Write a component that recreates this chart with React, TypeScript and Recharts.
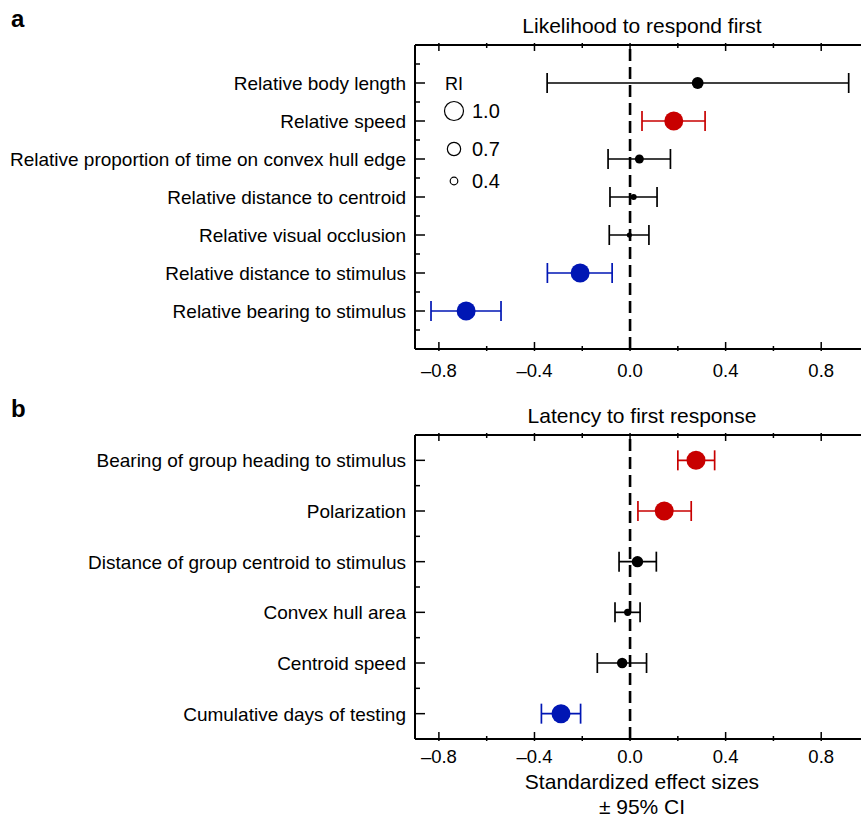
import {
  ErrorBar,
  Legend,
  ReferenceLine,
  Scatter,
  ScatterChart,
  XAxis,
  YAxis,
} from "recharts";

const FONT = "'Liberation Sans', Arial, Helvetica, sans-serif";

// Panel a: likelihood to respond first
const TITLE_A = "Likelihood to respond first";
const LABELS_A = [
  "Relative body length",
  "Relative speed",
  "Relative proportion of time on convex hull edge",
  "Relative distance to centroid",
  "Relative visual occlusion",
  "Relative distance to stimulus",
  "Relative bearing to stimulus",
];
const EST_A = [0.283, 0.183, 0.039, 0.015, -0.003, -0.209, -0.686];
const LOW_A = [-0.347, 0.05, -0.092, -0.084, -0.087, -0.346, -0.833];
const HIGH_A = [0.915, 0.314, 0.169, 0.113, 0.079, -0.075, -0.54];
const RI_A = [0.62, 1.0, 0.47, 0.32, 0.27, 1.0, 1.0];

// Panel b: latency to first response
const TITLE_B = "Latency to first response";
const LABELS_B = [
  "Bearing of group heading to stimulus",
  "Polarization",
  "Distance of group centroid to stimulus",
  "Convex hull area",
  "Centroid speed",
  "Cumulative days of testing",
];
const EST_B = [0.276, 0.143, 0.031, -0.01, -0.033, -0.289];
const LOW_B = [0.2, 0.033, -0.046, -0.063, -0.137, -0.371];
const HIGH_B = [0.354, 0.256, 0.11, 0.042, 0.069, -0.207];
const RI_B = [1.0, 1.0, 0.6, 0.38, 0.55, 1.0];

const LEGEND_RI = [1.0, 0.7, 0.4];
const X_TICKS = [-0.8, -0.6, -0.4, -0.2, 0, 0.2, 0.4, 0.6, 0.8];
const X_DOMAIN: [number, number] = [-0.9, 1.0];
const X_TITLE = ["Standardized effect sizes", "± 95% CI"];

const RED = "#c80000";
const BLUE = "#0016b4";
const BLACK = "#000000";

type Row = {
  row: number;
  est: number;
  err: [number, number];
  ri: number;
  sign: number;
};

function buildRows(
  est: number[],
  low: number[],
  high: number[],
  ri: number[],
  offset: number,
): Row[] {
  return est.map((e, i) => ({
    row: i + offset,
    est: e,
    err: [e - low[i], high[i] - e],
    ri: ri[i],
    // red when the whole CI is above zero, blue when below
    sign: low[i] > 0 ? 1 : high[i] < 0 ? -1 : 0,
  }));
}

const riRadius = (ri: number) => 9.5 * ri;

const GROUPS = [
  { sign: 0, color: BLACK },
  { sign: 1, color: RED },
  { sign: -1, color: BLUE },
];

const isMajorX = (v: number) => Math.abs(Math.round(v / 0.4) * 0.4 - v) < 1e-6;
const fmtX = (v: number) =>
  v < 0 ? `\u2013${Math.abs(v).toFixed(1)}` : v.toFixed(1);

const LEFT_GAP = 9;

function LeftTick(props: any) {
  const { x, y, payload, labels } = props;
  const axisX = x + LEFT_GAP;
  const label: string | undefined = labels[payload.value];
  return (
    <g>
      <line
        x1={axisX}
        x2={axisX + (label ? 10 : 5)}
        y1={y}
        y2={y}
        stroke="#000"
        strokeWidth={1.5}
      />
      {label && (
        <text
          x={x}
          y={y}
          dy="0.36em"
          textAnchor="end"
          fontSize={19}
          fontFamily={FONT}
          fill="#000"
        >
          {label}
        </text>
      )}
    </g>
  );
}

function BottomTick(props: any) {
  const { x, y, payload, labelGap } = props;
  const major = isMajorX(payload.value);
  return (
    <g>
      <line
        x1={x}
        x2={x}
        y1={y}
        y2={y - (major ? 9 : 5)}
        stroke="#000"
        strokeWidth={1.5}
      />
      {major && (
        <text
          x={x}
          y={y + labelGap}
          dy="0.36em"
          textAnchor="middle"
          fontSize={18.5}
          fontFamily={FONT}
          fill="#000"
        >
          {fmtX(payload.value)}
        </text>
      )}
    </g>
  );
}

function TopTick(props: any) {
  const { x, y, payload } = props;
  const major = isMajorX(payload.value);
  return (
    <line
      x1={x}
      x2={x}
      y1={y}
      y2={y + (major ? 8 : 5)}
      stroke="#000"
      strokeWidth={1.5}
    />
  );
}

function PanelTitle(props: any) {
  const { viewBox, value } = props;
  return (
    <text
      x={viewBox.x + viewBox.width / 2}
      y={viewBox.y + viewBox.height - 12}
      textAnchor="middle"
      fontSize={21}
      fontFamily={FONT}
      fill="#000"
    >
      {value}
    </text>
  );
}

function AxisTitle(props: any) {
  const { viewBox } = props;
  const cx = viewBox.x + viewBox.width / 2;
  return (
    <g fontFamily={FONT} fontSize={21} fill="#000" textAnchor="middle">
      {X_TITLE.map((line, i) => (
        <text key={line} x={cx} y={viewBox.y + 42 + i * 25} dy="0.36em">
          {line}
        </text>
      ))}
    </g>
  );
}

function RiLegend() {
  const ys = [41, 79, 111];
  return (
    <svg width={70} height={130} style={{ overflow: "visible" }}>
      <text x={7} y={20} fontSize={18} fontFamily={FONT} fill="#000">
        RI
      </text>
      {LEGEND_RI.map((ri, i) => (
        <g key={ri}>
          <circle
            cx={16}
            cy={ys[i]}
            r={riRadius(ri)}
            fill="none"
            stroke="#000"
            strokeWidth={1.2}
          />
          <text
            x={34}
            y={ys[i]}
            dy="0.36em"
            fontSize={20}
            fontFamily={FONT}
            fill="#000"
          >
            {ri.toFixed(1)}
          </text>
        </g>
      ))}
    </svg>
  );
}

type PanelProps = {
  title: string;
  labels: string[];
  rows: Row[];
  yDomain: [number, number];
  yTicks: number[];
  height: number;
  bottomAxisHeight: number;
  labelGap: number;
  showLegend?: boolean;
  showAxisTitle?: boolean;
};

function ForestPanel({
  title,
  labels,
  rows,
  yDomain,
  yTicks,
  height,
  bottomAxisHeight,
  labelGap,
  showLegend,
  showAxisTitle,
}: PanelProps) {
  const labelMap: Record<number, string> = {};
  rows.forEach((r, i) => {
    labelMap[r.row] = labels[i];
  });
  return (
    <ScatterChart
      width={875}
      height={height}
      margin={{ top: 5, right: 6, bottom: 0, left: 0 }}
      style={{ fontFamily: FONT }}
    >
      <XAxis
        type="number"
        dataKey="est"
        domain={X_DOMAIN}
        ticks={X_TICKS}
        interval={0}
        height={bottomAxisHeight}
        tickSize={0}
        tickLine={false}
        tick={<BottomTick labelGap={labelGap} />}
        axisLine={{ stroke: "#000", strokeWidth: 2 }}
        label={showAxisTitle ? { content: <AxisTitle /> } : undefined}
      />
      <XAxis
        xAxisId="top"
        orientation="top"
        type="number"
        dataKey="est"
        domain={X_DOMAIN}
        ticks={X_TICKS}
        interval={0}
        height={40}
        tickSize={0}
        tickLine={false}
        tick={<TopTick />}
        axisLine={{ stroke: "#000", strokeWidth: 2 }}
        label={{ value: title, content: <PanelTitle value={title} /> }}
      />
      <YAxis
        type="number"
        dataKey="row"
        domain={yDomain}
        ticks={yTicks}
        interval={0}
        reversed
        width={415}
        tickSize={0}
        tickMargin={LEFT_GAP}
        tickLine={false}
        tick={<LeftTick labels={labelMap} />}
        axisLine={{ stroke: "#000", strokeWidth: 2 }}
      />
      <ReferenceLine
        x={0}
        stroke="#000"
        strokeWidth={2.6}
        strokeDasharray="12 6"
      />
      {GROUPS.map((g) => (
        <Scatter
          key={g.sign}
          data={rows.filter((r) => r.sign === g.sign)}
          fill={g.color}
          isAnimationActive={false}
          shape={(p: any) => (
            <circle
              cx={p.cx}
              cy={p.cy}
              r={riRadius(p.payload.ri)}
              fill={g.color}
            />
          )}
        >
          <ErrorBar
            dataKey="err"
            direction="x"
            width={10}
            stroke={g.color}
            strokeWidth={1.7}
            isAnimationActive={false}
          />
        </Scatter>
      ))}
      {/* invisible series so the top axis has data to scale */}
      <Scatter
        xAxisId="top"
        data={rows}
        isAnimationActive={false}
        shape={() => <g />}
      />
      {showLegend && (
        <Legend
          layout="vertical"
          align="center"
          verticalAlign="middle"
          content={() => <RiLegend />}
          wrapperStyle={{ left: 438, top: 70, width: 70, height: 130 }}
        />
      )}
    </ScatterChart>
  );
}

const ROWS_A = buildRows(EST_A, LOW_A, HIGH_A, RI_A, 1);
const ROWS_B = buildRows(EST_B, LOW_B, HIGH_B, RI_B, 0.5);

const letterStyle: React.CSSProperties = {
  position: "absolute",
  left: 11,
  fontFamily: FONT,
  fontWeight: "bold",
  fontSize: 24,
  lineHeight: "24px",
};

export default function App() {
  return (
    <div
      style={{
        position: "absolute",
        left: 0,
        top: 0,
        width: 861,
        height: 817,
        overflow: "hidden",
        background: "#fff",
      }}
    >
      <div style={{ ...letterStyle, top: 7 }}>a</div>
      <div style={{ ...letterStyle, top: 397 }}>b</div>
      <div style={{ position: "absolute", left: 0, top: 0 }}>
        <ForestPanel
          title={TITLE_A}
          labels={LABELS_A}
          rows={ROWS_A}
          yDomain={[0, 8]}
          yTicks={[0.5, 1, 1.5, 2, 2.5, 3, 3.5, 4, 4.5, 5, 5.5, 6, 6.5, 7, 7.5]}
          height={400}
          bottomAxisHeight={51}
          labelGap={19}
          showLegend
        />
      </div>
      <div style={{ position: "absolute", left: 0, top: 390 }}>
        <ForestPanel
          title={TITLE_B}
          labels={LABELS_B}
          rows={ROWS_B}
          yDomain={[0, 6]}
          yTicks={[0.5, 1, 1.5, 2, 2.5, 3, 3.5, 4, 4.5, 5, 5.5]}
          height={427}
          bottomAxisHeight={78}
          labelGap={15}
          showAxisTitle
        />
      </div>
    </div>
  );
}
